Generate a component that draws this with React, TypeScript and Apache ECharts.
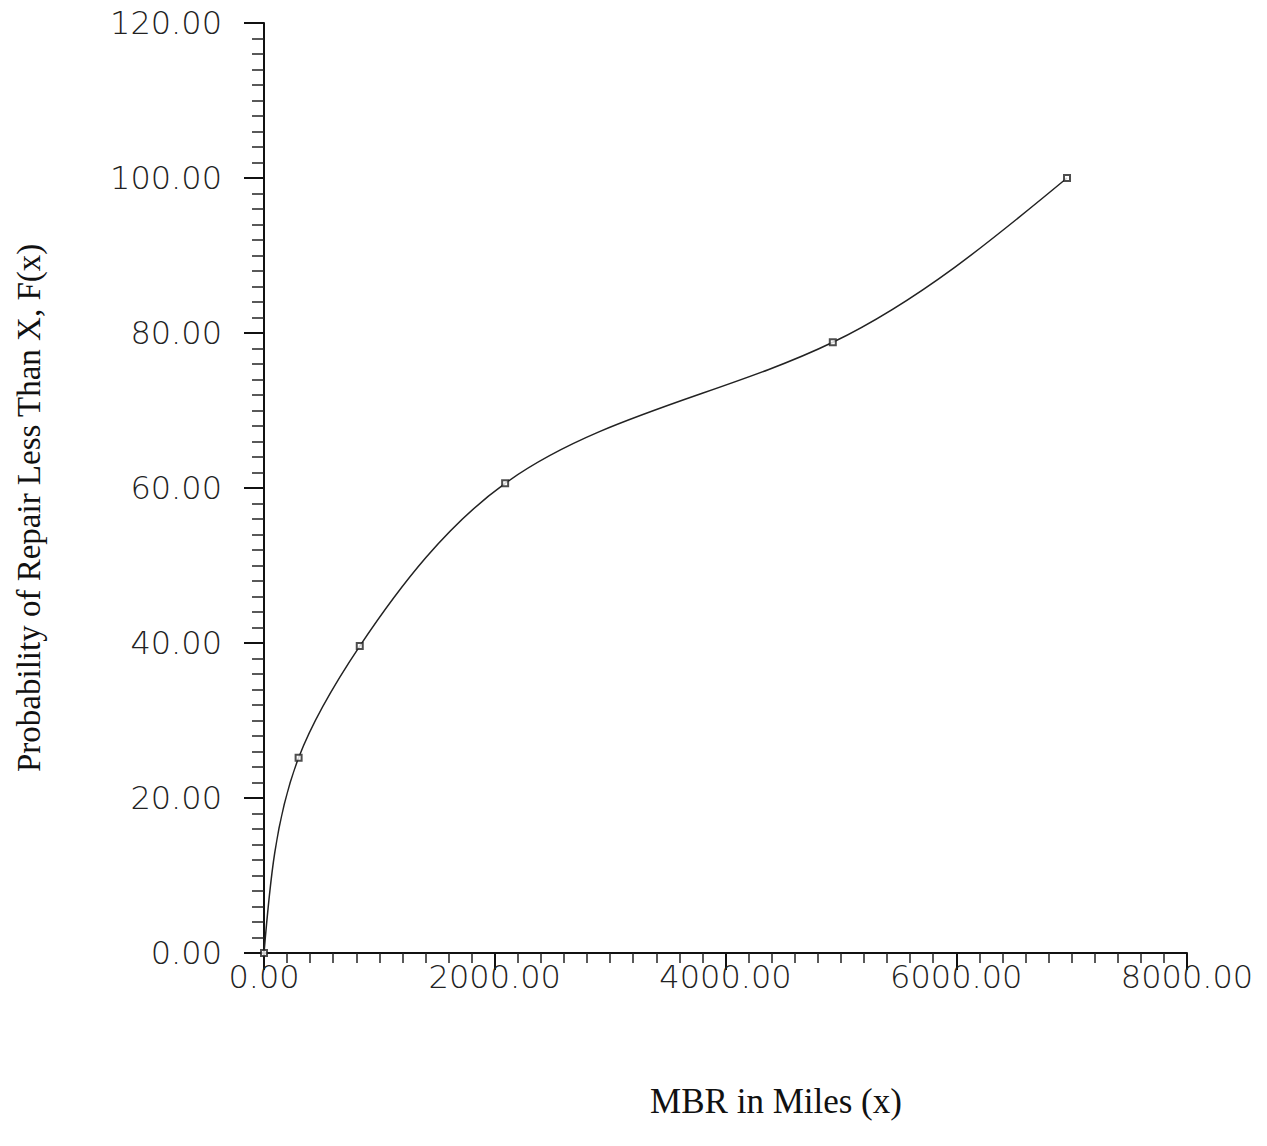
import React, { useEffect, useRef } from "react";
import * as echarts from "echarts";

// Cumulative probability of repair vs. miles between repairs
const mbrMiles = [0, 300, 830, 2090, 4930, 6960];
const repairProbability = [0, 25.2, 39.6, 60.6, 78.8, 100];

const xTicks = { min: 0, max: 8000, interval: 2000 };
const yTicks = { min: 0, max: 120, interval: 20 };

const xTitle = "MBR in Miles (x)";
const yTitle = "Probability of Repair Less Than X, F(x)";

const W = 1267;
const H = 1146;

// First derivatives of a natural cubic spline through values vs parameter t
function naturalSlopes(t: number[], v: number[]): number[] {
  const n = t.length;
  const h: number[] = [];
  for (let i = 0; i < n - 1; i++) h.push(t[i + 1] - t[i]);
  const a: number[] = new Array(n).fill(0);
  const b: number[] = new Array(n).fill(1);
  const c: number[] = new Array(n).fill(0);
  const d: number[] = new Array(n).fill(0);
  for (let i = 1; i < n - 1; i++) {
    a[i] = h[i - 1];
    b[i] = 2 * (h[i - 1] + h[i]);
    c[i] = h[i];
    d[i] = 6 * ((v[i + 1] - v[i]) / h[i] - (v[i] - v[i - 1]) / h[i - 1]);
  }
  for (let i = 1; i < n; i++) {
    const w = a[i] / b[i - 1];
    b[i] -= w * c[i - 1];
    d[i] -= w * d[i - 1];
  }
  const M: number[] = new Array(n).fill(0);
  M[n - 1] = d[n - 1] / b[n - 1];
  for (let i = n - 2; i >= 0; i--) M[i] = (d[i] - c[i] * M[i + 1]) / b[i];
  const s: number[] = [];
  for (let i = 0; i < n - 1; i++) {
    s.push((v[i + 1] - v[i]) / h[i] - (h[i] * (2 * M[i] + M[i + 1])) / 6);
  }
  const k = n - 2;
  s.push((v[k + 1] - v[k]) / h[k] + (h[k] * (M[k] + 2 * M[k + 1])) / 6);
  return s;
}

export default function App() {
  const ref = useRef<HTMLDivElement>(null);

  useEffect(() => {
    if (!ref.current) return;
    const chart = echarts.init(ref.current, undefined, { renderer: "svg", width: W, height: H });

    const tickLabel = {
      fontFamily: "DejaVu Sans",
      fontWeight: 200 as any,
      fontSize: 32,
      color: "#222",
      formatter: (v: number) => v.toFixed(2),
    };

    const points = mbrMiles.map((x, i) => [x, repairProbability[i]]);

    chart.setOption({
      animation: false,
      backgroundColor: "#ffffff",
      grid: { left: 264, top: 23, right: 80, bottom: 193, containLabel: false },
      xAxis: {
        type: "value",
        min: xTicks.min,
        max: xTicks.max,
        interval: xTicks.interval,
        axisLine: { show: true, onZero: false, lineStyle: { color: "#111", width: 2 } },
        axisTick: { show: true, inside: false, length: 17, lineStyle: { color: "#111", width: 2 } },
        minorTick: { show: true, splitNumber: 10, length: 10, lineStyle: { color: "#222", width: 1.5 } },
        splitLine: { show: false },
        axisLabel: { ...tickLabel, margin: 8 },
      },
      yAxis: {
        type: "value",
        min: yTicks.min,
        max: yTicks.max,
        interval: yTicks.interval,
        axisLine: { show: true, onZero: false, lineStyle: { color: "#111", width: 2 } },
        axisTick: { show: true, inside: false, length: 20, lineStyle: { color: "#111", width: 2 } },
        minorTick: { show: true, splitNumber: 10, length: 12, lineStyle: { color: "#222", width: 1.5 } },
        splitLine: { show: false },
        axisLabel: { ...tickLabel, margin: 42 },
      },
      series: [
        {
          // parametric spline through the knots (chord-length in screen space),
          // one cubic Bezier segment per data item
          type: "custom",
          data: points,
          clip: false,
          renderItem: (params: any, api: any) => {
            const i = params.dataIndex;
            const n = mbrMiles.length;
            if (i >= n - 1) return null;
            const px = points.map((p) => api.coord(p));
            const t: number[] = [0];
            for (let k = 1; k < n; k++) {
              const dx = px[k][0] - px[k - 1][0];
              const dy = px[k][1] - px[k - 1][1];
              t.push(t[k - 1] + Math.sqrt(dx * dx + dy * dy));
            }
            const sx = naturalSlopes(t, px.map((p) => p[0]));
            const sy = naturalSlopes(t, px.map((p) => p[1]));
            const h = t[i + 1] - t[i];
            const p0 = px[i];
            const p1 = px[i + 1];
            const c1 = [p0[0] + (h * sx[i]) / 3, p0[1] + (h * sy[i]) / 3];
            const c2 = [p1[0] - (h * sx[i + 1]) / 3, p1[1] - (h * sy[i + 1]) / 3];
            return {
              type: "path",
              shape: {
                pathData: `M${p0[0]},${p0[1]} C${c1[0]},${c1[1]} ${c2[0]},${c2[1]} ${p1[0]},${p1[1]}`,
              },
              style: { stroke: "#222", fill: "none", lineWidth: 1.5 },
            };
          },
          z: 2,
        },
        {
          type: "scatter",
          data: points,
          symbol: "emptyRect",
          symbolSize: 6,
          itemStyle: { color: "#222", borderColor: "#222", borderWidth: 1.5 },
          z: 3,
        },
      ],
      graphic: [
        {
          type: "text",
          x: 776,
          y: 1084,
          style: {
            text: xTitle,
            font: "35px 'Liberation Serif'",
            fill: "#111",
            textAlign: "center",
          },
        },
        {
          type: "text",
          x: 12,
          y: 772,
          rotation: Math.PI / 2,
          style: {
            text: yTitle,
            font: "33px 'Liberation Serif'",
            fill: "#111",
            verticalAlign: "top",
          },
        },
      ],
    });

    return () => chart.dispose();
  }, []);

  return (
    <div
      ref={ref}
      style={{ position: "fixed", left: 0, top: 0, width: W, height: H, background: "#fff" }}
    />
  );
}
